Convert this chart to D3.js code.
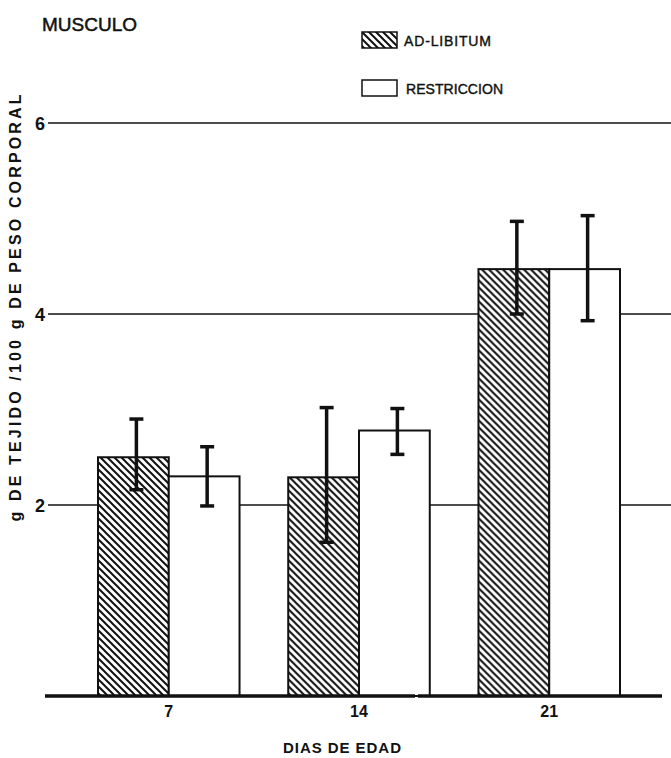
<!DOCTYPE html>
<html>
<head>
<meta charset="utf-8">
<script src="https://cdn.jsdelivr.net/npm/d3@7"></script>
<style>
  html, body { margin: 0; padding: 0; background: #fff; }
  svg { display: block; }
  text { font-family: "Liberation Sans", Arial, sans-serif; fill: #111; }
</style>
</head>
<body>
<svg id="chart" width="671" height="758"></svg>
<script>
// ---- data ----
const categories = ["7", "14", "21"];
const seriesNames = ["AD-LIBITUM", "RESTRICCION"];
const adLibitum = [2.50, 2.29, 4.47];
const adLibitumLow = [2.16, 1.61, 4.00];
const adLibitumHigh = [2.90, 3.02, 4.97];
const restriccion = [2.30, 2.78, 4.47];
const restriccionLow = [1.99, 2.53, 3.93];
const restriccionHigh = [2.61, 3.01, 5.03];
const yTicks = [2, 4, 6];
const title = "MUSCULO";
const xTitle = "DIAS DE EDAD";
const yTitle = "g DE TEJIDO /100 g DE PESO CORPORAL";

// ---- layout ----
const svg = d3.select("#chart");
const x = d3.scaleBand().domain(categories).range([98, 620]).paddingInner(0.256).paddingOuter(0);
const xs = d3.scaleBand().domain(seriesNames).range([0, x.bandwidth()]).padding(0);
const y = d3.scaleLinear().domain([0, 6]).range([696, 123]);

const defs = svg.append("defs");
const pat = defs.append("pattern").attr("id", "hatch")
  .attr("patternUnits", "userSpaceOnUse").attr("width", 7).attr("height", 7);
pat.append("rect").attr("width", 7).attr("height", 7).attr("fill", "#fff");
pat.append("path").attr("d", "M0,0 L7,7 M-2,5 L2,9 M5,-2 L9,2")
  .attr("stroke", "#111").attr("stroke-width", 2);

// y axis labels and gridlines
const yAxis = d3.axisLeft(y).tickValues(yTicks).tickSize(0).tickPadding(0).tickFormat(d3.format("d"));
svg.append("g").attr("transform", "translate(45,0)").call(yAxis)
  .call(g => g.select(".domain").remove())
  .call(g => g.selectAll("text").attr("font-size", 18).attr("font-weight", "bold")
    .attr("font-family", "Liberation Sans, Arial, sans-serif").attr("dy", "0.36em"));
svg.append("g").selectAll("line").data(yTicks).join("line")
  .attr("x1", 48).attr("x2", 671)
  .attr("y1", d => y(d)).attr("y2", d => y(d))
  .attr("stroke", "#111").attr("stroke-width", 1.5);

// bars
const data = categories.map((c, i) => ({
  cat: c,
  vals: [
    { s: seriesNames[0], v: adLibitum[i], lo: adLibitumLow[i], hi: adLibitumHigh[i] },
    { s: seriesNames[1], v: restriccion[i], lo: restriccionLow[i], hi: restriccionHigh[i] }
  ]
}));

const groups = svg.append("g").selectAll("g").data(data).join("g")
  .attr("transform", d => `translate(${x(d.cat)},0)`);

groups.selectAll("rect").data(d => d.vals).join("rect")
  .attr("x", d => xs(d.s))
  .attr("y", d => y(d.v))
  .attr("width", xs.bandwidth())
  .attr("height", d => y(0) - y(d.v))
  .attr("fill", d => d.s === seriesNames[0] ? "url(#hatch)" : "#fff")
  .attr("stroke", "#111").attr("stroke-width", 2);

// error bars
const ex = d => xs(d.s) + xs.bandwidth() / 2 + 3;
const eb = groups.selectAll("g.err").data(d => d.vals).join("g").attr("class", "err");
eb.append("line")
  .attr("x1", ex).attr("x2", ex)
  .attr("y1", d => y(d.lo)).attr("y2", d => y(d.hi))
  .attr("stroke", "#111").attr("stroke-width", 3.5);
eb.selectAll("line.cap").data(d => [{ s: d.s, v: d.lo }, { s: d.s, v: d.hi }]).join("line")
  .attr("class", "cap")
  .attr("x1", d => ex(d) - 7).attr("x2", d => ex(d) + 7)
  .attr("y1", d => y(d.v)).attr("y2", d => y(d.v))
  .attr("stroke", "#111").attr("stroke-width", 3.5);

// baseline and x axis
svg.append("line").attr("x1", 45).attr("x2", 415).attr("y1", y(0)).attr("y2", y(0))
  .attr("stroke", "#111").attr("stroke-width", 3.5);
svg.append("line").attr("x1", 418).attr("x2", 662).attr("y1", y(0)).attr("y2", y(0))
  .attr("stroke", "#111").attr("stroke-width", 3.5);
const xAxis = d3.axisBottom(x).tickSize(0).tickPadding(10);
svg.append("g").attr("transform", `translate(0,${y(0)})`).call(xAxis)
  .call(g => g.select(".domain").remove())
  .call(g => g.selectAll("text").attr("font-size", 16).attr("font-weight", "bold")
    .attr("font-family", "Liberation Sans, Arial, sans-serif"));

// titles
svg.append("text").attr("x", 42).attr("y", 31).attr("font-size", 19)
  .attr("stroke", "#111").attr("stroke-width", 0.5).text(title);
svg.append("text").attr("x", 342).attr("y", 753).attr("text-anchor", "middle")
  .attr("font-size", 15).attr("font-weight", "bold")
  .attr("textLength", 118).attr("lengthAdjust", "spacing").text(xTitle);
svg.append("text").attr("transform", "translate(21,308) rotate(-90)").attr("text-anchor", "middle")
  .attr("font-size", 16).attr("font-weight", "bold")
  .attr("textLength", 427).attr("lengthAdjust", "spacing").text(yTitle);

// legend
const legendLens = [87, 97];
const legend = svg.append("g").selectAll("g").data(seriesNames).join("g")
  .attr("transform", (d, i) => `translate(362,${32 + i * 48})`);
legend.append("rect").attr("width", 35).attr("height", 16)
  .attr("fill", (d, i) => i === 0 ? "url(#hatch)" : "#fff")
  .attr("stroke", "#111").attr("stroke-width", 1.5);
legend.append("text").attr("x", (d, i) => 42 + i * 2).attr("y", 14).attr("font-size", 14)
  .attr("stroke", "#111").attr("stroke-width", 0.4)
  .attr("textLength", (d, i) => legendLens[i]).attr("lengthAdjust", "spacing").text(d => d);
</script>
</body>
</html>
